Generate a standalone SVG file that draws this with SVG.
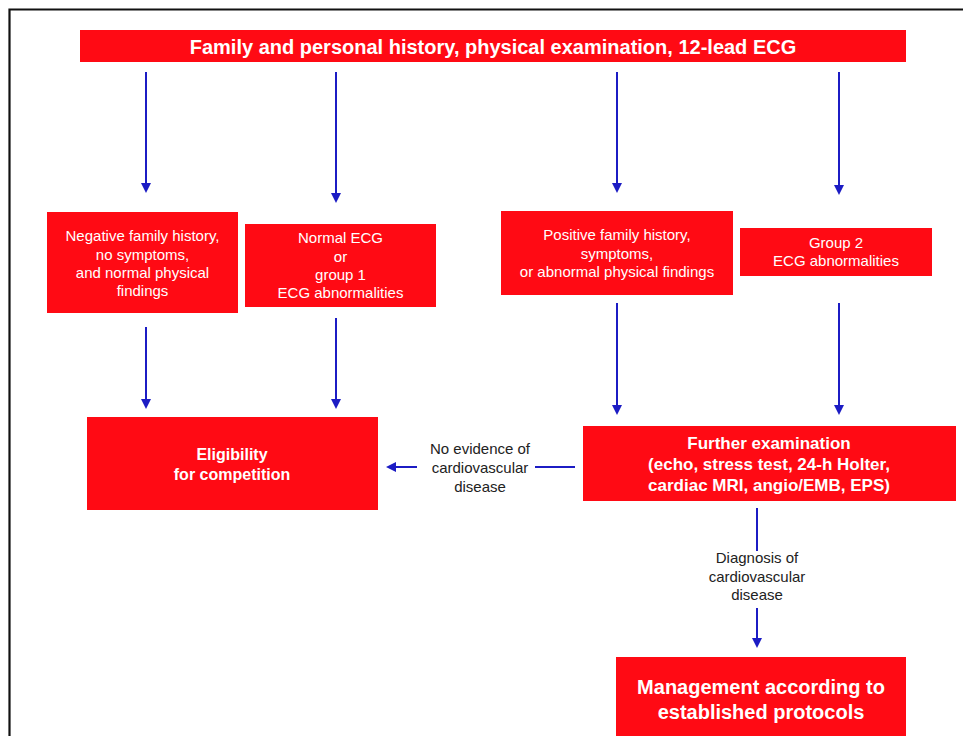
<svg xmlns="http://www.w3.org/2000/svg" width="963" height="736" viewBox="0 0 963 736">
<style>
.box{fill:#ff0a14;}
.t{font-family:"Liberation Sans",Arial,sans-serif;fill:#ffffff;text-anchor:middle;}
.r{font-size:15px;}
.b{font-weight:bold;}
.lbl{font-family:"Liberation Sans",Arial,sans-serif;font-size:15px;fill:#222222;text-anchor:middle;}
.c{stroke:#1c1cc4;stroke-width:2;fill:none;}
.ca{stroke:#1c1cc4;stroke-width:2;fill:none;marker-end:url(#ah);}
</style>
<defs>
<marker id="ah" viewBox="0 0 10 10" markerUnits="userSpaceOnUse" markerWidth="10" markerHeight="10" refX="3" refY="5" orient="auto">
<path d="M0,0 L10,5 L0,10 z" fill="#1c1cc4"/>
</marker>
</defs>
<rect x="0" y="0" width="963" height="736" fill="#ffffff"/>
<g id="frame">
<path d="M9.5,736 L9.5,9.5 L963,9.5" stroke="#111111" stroke-width="2.2" fill="none"/>
</g>
<g id="connectors">
<line class="ca" x1="146" y1="72" x2="146" y2="186"/>
<line class="ca" x1="336" y1="72" x2="336" y2="196"/>
<line class="ca" x1="617" y1="72" x2="617" y2="186"/>
<line class="ca" x1="839" y1="72" x2="839" y2="188"/>
<line class="ca" x1="146" y1="327" x2="146" y2="402"/>
<line class="ca" x1="336" y1="318" x2="336" y2="402"/>
<line class="ca" x1="617" y1="303" x2="617" y2="408"/>
<line class="ca" x1="839" y1="303" x2="839" y2="408"/>
<line class="c" x1="535" y1="467" x2="575" y2="467"/>
<line class="ca" x1="417" y1="467" x2="393" y2="467"/>
<line class="c" x1="757" y1="508" x2="757" y2="551"/>
<line class="ca" x1="757" y1="608" x2="757" y2="641"/>
</g>
<g id="n-top">
<rect class="box" x="80" y="30" width="826" height="32"/>
<text class="t b" x="493" y="53.5" font-size="20">Family and personal history, physical examination, 12-lead ECG</text>
</g>
<g id="n-negative">
<rect class="box" x="47" y="212" width="191" height="101"/>
<text class="t r" x="142.5" y="241">Negative family history,</text>
<text class="t r" x="142.5" y="259.5">no symptoms,</text>
<text class="t r" x="142.5" y="278">and normal physical</text>
<text class="t r" x="142.5" y="296">findings</text>
</g>
<g id="n-normal">
<rect class="box" x="245" y="224" width="191" height="83"/>
<text class="t r" x="340.5" y="243">Normal ECG</text>
<text class="t r" x="340.5" y="262">or</text>
<text class="t r" x="340.5" y="280">group 1</text>
<text class="t r" x="340.5" y="298">ECG abnormalities</text>
</g>
<g id="n-positive">
<rect class="box" x="501" y="211" width="232" height="84"/>
<text class="t r" x="617" y="240">Positive family history,</text>
<text class="t r" x="617" y="258.5">symptoms,</text>
<text class="t r" x="617" y="276.5">or abnormal physical findings</text>
</g>
<g id="n-group2">
<rect class="box" x="740" y="228" width="192" height="48"/>
<text class="t r" x="836" y="247.5">Group 2</text>
<text class="t r" x="836" y="266">ECG abnormalities</text>
</g>
<g id="n-eligibility">
<rect class="box" x="87" y="417" width="291" height="93"/>
<text class="t b" x="232" y="460" font-size="16">Eligibility</text>
<text class="t b" x="232" y="480" font-size="16">for competition</text>
</g>
<g id="n-further">
<rect class="box" x="583" y="426" width="373" height="75"/>
<text class="t b" x="769" y="449" font-size="17">Further examination</text>
<text class="t b" x="769" y="470" font-size="17">(echo, stress test, 24-h Holter,</text>
<text class="t b" x="769" y="491" font-size="17">cardiac MRI, angio/EMB, EPS)</text>
</g>
<g id="n-management">
<rect class="box" x="616" y="657" width="290" height="90"/>
<text class="t b" x="761" y="694" font-size="20">Management according to</text>
<text class="t b" x="761" y="719" font-size="20">established protocols</text>
</g>
<g id="labels">
<text class="lbl" x="480" y="454">No evidence of</text>
<text class="lbl" x="480" y="473">cardiovascular</text>
<text class="lbl" x="480" y="492">disease</text>
<text class="lbl" x="757" y="563">Diagnosis of</text>
<text class="lbl" x="757" y="582">cardiovascular</text>
<text class="lbl" x="757" y="600">disease</text>
</g>
</svg>
